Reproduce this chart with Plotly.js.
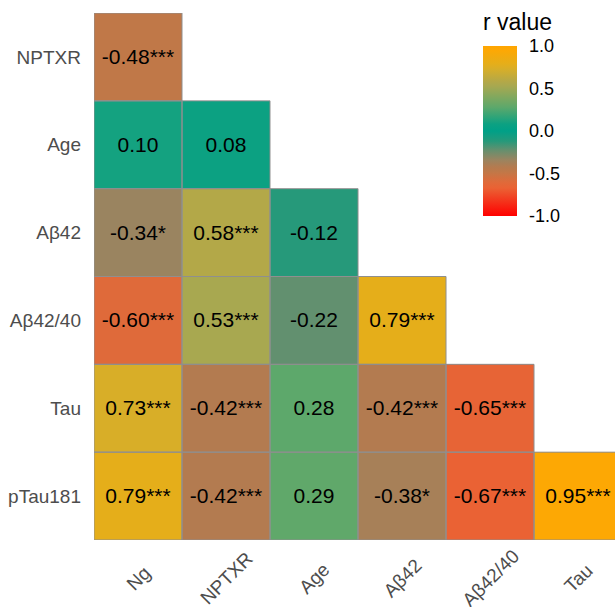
<!DOCTYPE html>
<html>
<head>
<meta charset="utf-8">
<script src="https://cdn.plot.ly/plotly-3.0.1.min.js"></script>
<style>html,body{margin:0;padding:0;background:#fff;}#chart{width:615px;height:607px;}</style>
</head>
<body>
<div id="chart"></div>
<script>
// Columns (x) and rows (y, top to bottom)
const xCategories = ["Ng", "NPTXR", "Age", "Aβ42", "Aβ42/40", "Tau"];
const yCategories = ["NPTXR", "Age", "Aβ42", "Aβ42/40", "Tau", "pTau181"];

// Correlation values per row (null = empty upper triangle)
const rowNPTXR   = [-0.48, null, null, null, null, null];
const rowAge     = [0.10, 0.08, null, null, null, null];
const rowAb42    = [-0.34, 0.58, -0.12, null, null, null];
const rowAb4240  = [-0.60, 0.53, -0.22, 0.79, null, null];
const rowTau     = [0.73, -0.42, 0.28, -0.42, -0.65, null];
const rowPTau181 = [0.79, -0.42, 0.29, -0.38, -0.67, 0.95];

// Significance stars per row
const starsNPTXR   = ["***", "", "", "", "", ""];
const starsAge     = ["", "", "", "", "", ""];
const starsAb42    = ["*", "***", "", "", "", ""];
const starsAb4240  = ["***", "***", "", "***", "", ""];
const starsTau     = ["***", "***", "", "***", "***", ""];
const starsPTau181 = ["***", "***", "", "*", "***", "***"];

const colorbarTitle = "r value";
const colorbarTicks = [-1, -0.5, 0, 0.5, 1];
const colorbarTickText = ["-1.0", "-0.5", "0.0", "0.5", "1.0"];

const zRows = [rowNPTXR, rowAge, rowAb42, rowAb4240, rowTau, rowPTau181];
const starRows = [starsNPTXR, starsAge, starsAb42, starsAb4240, starsTau, starsPTau181];
const textRows = zRows.map((r, i) => r.map((v, j) => v === null ? "" : v.toFixed(2) + starRows[i][j]));

const stops = [
  [-1.0, "#FF0000"], [-0.67, "#EA6234"], [-0.6, "#DF6A3A"], [-0.48, "#C07848"],
  [-0.42, "#B37B50"], [-0.34, "#9A8460"], [-0.22, "#62906F"], [-0.12, "#26997A"],
  [0.0, "#00A087"], [0.08, "#0CA182"], [0.28, "#5DA86B"], [0.53, "#A8A850"],
  [0.58, "#B3A848"], [0.73, "#D8AE28"], [0.79, "#E5AE1A"], [0.95, "#FDA804"], [1.0, "#FFA500"]
];
const colorscale = stops.map(s => [(s[0] + 1) / 2, s[1]]);

const FONT = "Liberation Sans, Arial, sans-serif";

const heat = {
  type: "heatmap",
  x: xCategories,
  y: yCategories,
  z: zRows,
  text: textRows,
  texttemplate: "%{text}",
  textfont: {family: FONT, size: 21, color: "#000000"},
  colorscale: colorscale,
  zmin: -1, zmax: 1,
  hoverongaps: false,
  colorbar: {
    x: 0.7466, xanchor: "left",
    y: 0.9374, yanchor: "top",
    len: 0.3226, lenmode: "fraction",
    thickness: 34, thicknessmode: "pixels",
    xpad: 0, ypad: 0,
    outlinewidth: 0,
    tickvals: colorbarTicks,
    ticktext: colorbarTickText,
    ticks: "outside", ticklen: 9, tickcolor: "#ffffff",
    tickfont: {size: 18, color: "#000", family: FONT}
  }
};

// Cell borders derived from data positions
const shapes = [];
zRows.forEach((r, i) => r.forEach((v, j) => {
  if (v !== null) {
    shapes.push({type: "rect", xref: "x", yref: "y",
      x0: j - 0.5, x1: j + 0.5, y0: i - 0.5, y1: i + 0.5,
      line: {color: "#8F8F8F", width: 1}, fillcolor: "rgba(0,0,0,0)", layer: "above"});
  }
}));

// Rotated x labels, centered under each column
const annotations = xCategories.map((c, j) => ({
  x: j, xref: "x", y: 0, yref: "paper", yanchor: "middle", xanchor: "center",
  yshift: -38, text: c, textangle: -45, showarrow: false,
  font: {size: 19, color: "#4D4D4D", family: FONT}
}));
// Colour bar title
annotations.push({
  x: 0.7466, xref: "paper", xanchor: "left", y: 0.983, yref: "paper", yanchor: "middle",
  text: colorbarTitle, showarrow: false, xshift: -2,
  font: {size: 23, color: "#000", family: FONT}
});

const layout = {
  width: 615, height: 607,
  margin: {l: 94, r: 0, t: 13, b: 67},
  paper_bgcolor: "#ffffff", plot_bgcolor: "#ffffff",
  font: {family: FONT},
  xaxis: {
    type: "category", categoryarray: xCategories, range: [-0.5, 5.42],
    showticklabels: false, showgrid: false, zeroline: false, ticks: "", fixedrange: true
  },
  yaxis: {
    type: "category", categoryarray: yCategories, range: [5.5, -0.5],
    showgrid: false, zeroline: false, ticks: "", ticklabelstandoff: 12,
    tickfont: {size: 19, color: "#4D4D4D", family: FONT}
  },
  shapes: shapes,
  annotations: annotations,
  showlegend: false
};

Plotly.newPlot("chart", [heat], layout, {displayModeBar: false, staticPlot: true});
</script>
</body>
</html>
